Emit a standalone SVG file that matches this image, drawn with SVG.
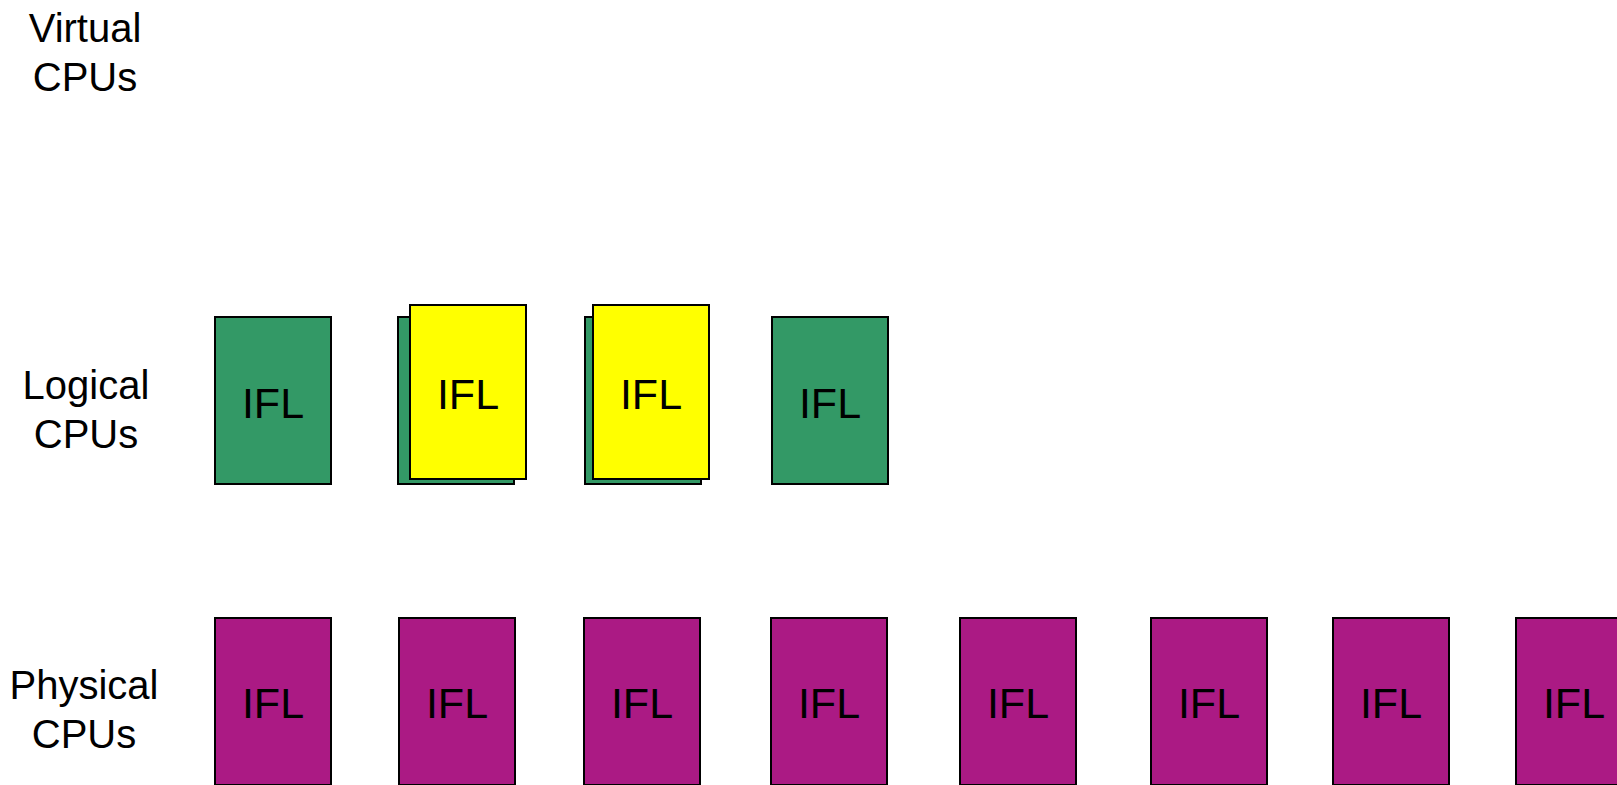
<svg xmlns="http://www.w3.org/2000/svg" width="1617" height="785" viewBox="0 0 1617 785">
  <style>
    .lbl { font-family: "Liberation Sans", Arial, sans-serif; font-size: 40px; fill: #000; text-anchor: middle; }
    .ifl { font-family: "Liberation Sans", Arial, sans-serif; font-size: 43px; fill: #000; text-anchor: middle; }
    .box { stroke: #000; stroke-width: 2; }
    .green { fill: #339966; }
    .yellow { fill: #FFFF00; }
    .purple { fill: #AB1A84; }
  </style>
  <rect width="1617" height="785" fill="#fff"/>
  <g id="labels">
    <text class="lbl" x="85" y="42">Virtual</text>
    <text class="lbl" x="85" y="91">CPUs</text>
    <text class="lbl" x="86" y="399">Logical</text>
    <text class="lbl" x="86" y="448">CPUs</text>
    <text class="lbl" x="84" y="699">Physical</text>
    <text class="lbl" x="84" y="748">CPUs</text>
  </g>
  <g id="logical-1">
    <rect class="box green" x="215" y="317" width="116" height="167"/>
    <text class="ifl" x="273" y="418">IFL</text>
  </g>
  <g id="logical-2">
    <rect class="box green" x="398" y="317" width="116" height="167"/>
    <rect class="box yellow" x="410" y="305" width="116" height="174"/>
    <text class="ifl" x="468" y="409">IFL</text>
  </g>
  <g id="logical-3">
    <rect class="box green" x="585" y="317" width="116" height="167"/>
    <rect class="box yellow" x="593" y="305" width="116" height="174"/>
    <text class="ifl" x="651" y="409">IFL</text>
  </g>
  <g id="logical-4">
    <rect class="box green" x="772" y="317" width="116" height="167"/>
    <text class="ifl" x="830" y="418">IFL</text>
  </g>
  <g id="physical-1">
    <rect class="box purple" x="215" y="618" width="116" height="167"/>
    <text class="ifl" x="273" y="718">IFL</text>
  </g>
  <g id="physical-2">
    <rect class="box purple" x="399" y="618" width="116" height="167"/>
    <text class="ifl" x="457" y="718">IFL</text>
  </g>
  <g id="physical-3">
    <rect class="box purple" x="584" y="618" width="116" height="167"/>
    <text class="ifl" x="642" y="718">IFL</text>
  </g>
  <g id="physical-4">
    <rect class="box purple" x="771" y="618" width="116" height="167"/>
    <text class="ifl" x="829" y="718">IFL</text>
  </g>
  <g id="physical-5">
    <rect class="box purple" x="960" y="618" width="116" height="167"/>
    <text class="ifl" x="1018" y="718">IFL</text>
  </g>
  <g id="physical-6">
    <rect class="box purple" x="1151" y="618" width="116" height="167"/>
    <text class="ifl" x="1209" y="718">IFL</text>
  </g>
  <g id="physical-7">
    <rect class="box purple" x="1333" y="618" width="116" height="167"/>
    <text class="ifl" x="1391" y="718">IFL</text>
  </g>
  <g id="physical-8">
    <rect class="box purple" x="1516" y="618" width="116" height="167"/>
    <text class="ifl" x="1574" y="718">IFL</text>
  </g>
  <g id="connectors"></g>
</svg>
